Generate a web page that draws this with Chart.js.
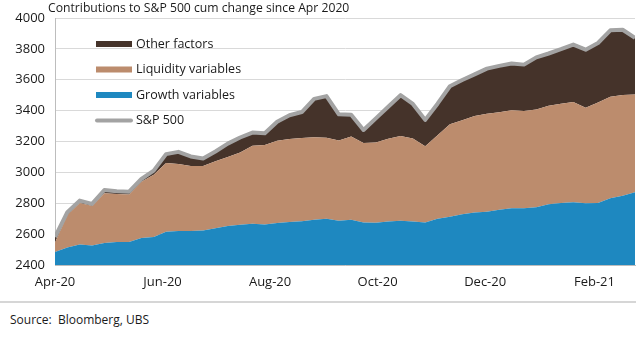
<!DOCTYPE html>
<html>
<head>
    <meta charset="utf-8">
    <script src="https://cdn.jsdelivr.net/npm/chart.js@4.4.1/dist/chart.umd.min.js"></script>
    <style>
        body { margin: 0; background: #fff; font-family: "Open Sans", sans-serif; color: #1a1a1a; }
        #wrap { position: relative; width: 640px; height: 360px; overflow: hidden; }
        #title { position: absolute; left: 48px; top: 0px; font-size: 12.2px; line-height: 16px; white-space: nowrap; }
        #chartBox { position: absolute; left: 0; top: 0; width: 640px; height: 300px; }
        #rule { position: absolute; left: 0; top: 301px; width: 636px; height: 2px; background: #d6d6d6; }
        #source { position: absolute; left: 10px; top: 312px; font-size: 12px; line-height: 16px; white-space: nowrap; }
    </style>
</head>
<body>
    <div id="wrap">
        <div id="chartBox"><canvas id="myChart"></canvas></div>
        <div id="title">Contributions to S&amp;P 500 cum change since Apr 2020</div>
        <div id="rule"></div>
        <div id="source">Source:&nbsp; Bloomberg, UBS</div>
    </div>
    <script>
        // weekly observations, first one on 3 Apr 2020
        const startDate = '2020-04-03'
        const tickDates = ['2020-04-03', '2020-06-03', '2020-08-03', '2020-10-03', '2020-12-03', '2021-02-03']
        const tickLabels = ['Apr-20', 'Jun-20', 'Aug-20', 'Oct-20', 'Dec-20', 'Feb-21']

        // contributions (stacked) and the index itself
        const growth = [2484, 2514, 2533, 2527, 2542, 2549, 2549, 2575, 2581, 2615,
                        2620, 2620, 2624, 2638, 2652, 2660, 2667, 2662, 2672, 2678,
                        2684, 2693, 2700, 2686, 2693, 2675, 2673, 2682, 2686, 2682,
                        2675, 2700, 2712, 2728, 2740, 2745, 2758, 2768, 2768, 2774,
                        2793, 2802, 2807, 2800, 2802, 2832, 2849, 2871]
        const liquidity = [61, 211, 269, 256, 323, 311, 307, 365, 404, 445,
                           434, 422, 418, 434, 448, 468, 505, 515, 533, 539,
                           539, 535, 525, 520, 539, 515, 521, 536, 550, 538,
                           495, 540, 600, 610, 625, 635, 632, 634, 630, 634,
                           639, 643, 649, 619, 650, 658, 652, 634]
        const other = [36, 17, 15, 13, 21, 18, 19, 17, 26, 58,
                       79, 61, 48, 63, 86, 98, 86, 77, 123, 153,
                       168, 248, 269, 170, 142, 85, 156, 207, 264, 223,
                       170, 205, 246, 260, 270, 292, 300, 303, 300, 337,
                       338, 353, 372, 376, 386, 430, 423, 366]
        const sp500 = [2581, 2742, 2817, 2796, 2886, 2878, 2875, 2957, 3011, 3118,
                       3133, 3103, 3090, 3135, 3186, 3226, 3258, 3254, 3328, 3370,
                       3391, 3476, 3494, 3376, 3374, 3275, 3350, 3425, 3500, 3443,
                       3340, 3445, 3558, 3598, 3635, 3672, 3690, 3705, 3698, 3745,
                       3770, 3798, 3828, 3795, 3838, 3920, 3924, 3871]

        const DAY = 86400000
        const t0 = Date.parse(startDate)
        const dayOf = (s) => Math.round((Date.parse(s) - t0) / DAY)
        const tickDays = tickDates.map(dayOf)
        const toPoints = (arr) => arr.map((v, i) => ({ x: i * 7, y: v }))

        const colors = {
            growth: '#1e88c0',
            liquidity: '#bc8c6d',
            other: '#45332a',
            sp: '#a3a3a3'
        }

        Chart.defaults.font.family = '"Open Sans", sans-serif'
        Chart.defaults.font.size = 13
        Chart.defaults.color = '#1a1a1a'

        const datasets = [
            {
                label: 'S&P 500',
                data: toPoints(sp500),
                stack: 'index',
                borderColor: colors.sp,
                borderWidth: 4,
                borderJoinStyle: 'round',
                pointRadius: 0,
                fill: false
            },
            {
                label: 'Growth variables',
                data: toPoints(growth),
                stack: 'factors',
                backgroundColor: colors.growth,
                borderWidth: 0,
                pointRadius: 0,
                fill: 'start'
            },
            {
                label: 'Liquidity variables',
                data: toPoints(liquidity),
                stack: 'factors',
                backgroundColor: colors.liquidity,
                borderWidth: 0,
                pointRadius: 0,
                fill: '-1'
            },
            {
                label: 'Other factors',
                data: toPoints(other),
                stack: 'factors',
                backgroundColor: colors.other,
                borderWidth: 0,
                pointRadius: 0,
                fill: '-1'
            }
        ]

        // legend sits inside the plot, top left
        const insideLegend = {
            id: 'insideLegend',
            afterDatasetsDraw(chart) {
                const ctx = chart.ctx
                const order = [3, 2, 1, 0]
                ctx.save()
                ctx.font = '12.5px "Open Sans", sans-serif'
                ctx.textBaseline = 'middle'
                order.forEach((idx, row) => {
                    const ds = chart.data.datasets[idx]
                    const y = 44 + row * 25.5
                    if (idx === 0) {
                        ctx.strokeStyle = ds.borderColor
                        ctx.lineWidth = 4
                        ctx.lineCap = 'round'
                        ctx.beginPath()
                        ctx.moveTo(97, y)
                        ctx.lineTo(131, y)
                        ctx.stroke()
                    } else {
                        ctx.fillStyle = ds.backgroundColor
                        ctx.fillRect(96, y - 3, 36, 6)
                    }
                    ctx.fillStyle = '#1a1a1a'
                    ctx.fillText(ds.label, 136, y)
                })
                ctx.restore()
            }
        }

        const config = {
            type: 'line',
            data: { datasets: datasets },
            options: {
                responsive: true,
                maintainAspectRatio: false,
                animation: false,
                layout: { padding: { top: 18, right: 5, left: 0, bottom: 0 } },
                plugins: {
                    legend: { display: false },
                    tooltip: { enabled: false }
                },
                scales: {
                    x: {
                        type: 'linear',
                        min: 0,
                        max: (sp500.length - 1) * 7,
                        grid: { display: false, drawTicks: false },
                        border: { display: true, color: '#bdbdbd', width: 1 },
                        afterBuildTicks: (scale) => {
                            scale.ticks = tickDays.map((d) => ({ value: d }))
                        },
                        afterFit: (scale) => { scale.height = 35 },
                        ticks: {
                            padding: 9,
                            maxRotation: 0,
                            autoSkip: false,
                            callback: (v) => {
                                const k = tickDays.indexOf(v)
                                return k >= 0 ? tickLabels[k] : ''
                            }
                        }
                    },
                    y: {
                        stacked: true,
                        min: 2400,
                        max: 4000,
                        grid: { color: '#d9d9d9', drawTicks: false },
                        border: { display: true, color: '#bdbdbd', width: 1 },
                        afterFit: (scale) => { scale.width = 55 },
                        ticks: { stepSize: 200, padding: 10, callback: (v) => String(v) }
                    }
                }
            },
            plugins: [insideLegend]
        }

        const myChart = new Chart(document.getElementById('myChart'), config)
    </script>
</body>
</html>
